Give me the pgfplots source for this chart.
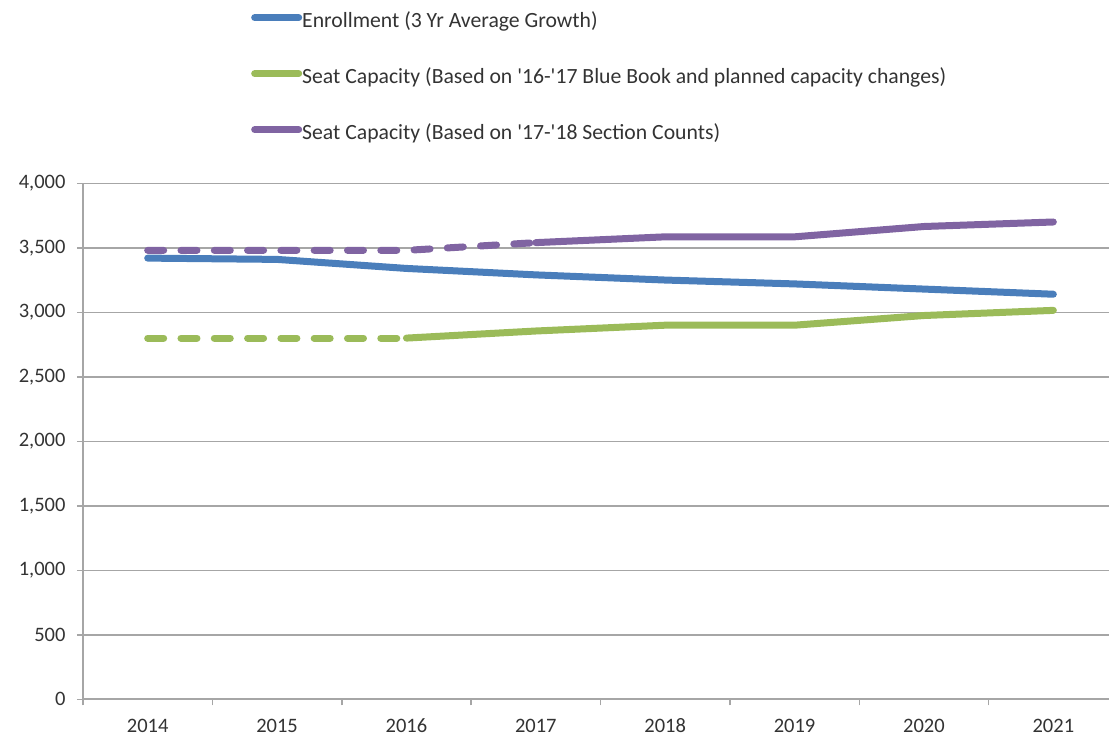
\documentclass[border=0pt]{standalone}
\usepackage{fontspec}
\setmainfont{Carlito}
\usepackage{pgfplots}
\pgfplotsset{compat=1.18}
\definecolor{eblue}{HTML}{4A7EBB}
\definecolor{egreen}{HTML}{9BBB59}
\definecolor{epurple}{HTML}{8064A2}
\definecolor{gridgray}{HTML}{A6A6A6}
\definecolor{txt}{HTML}{333333}
\begin{document}
\begin{tikzpicture}
\useasboundingbox (0,0) rectangle (1109pt,738pt);
\begin{axis}[
  at={(83pt,38.7pt)}, anchor=south west,
  scale only axis, width=1026pt, height=516pt,
  xmin=-0.5, xmax=7.43, ymin=0, ymax=4000,
  axis x line=bottom, axis y line=left,
  axis line style={gridgray, line width=1.8pt, -},
  xtick={-0.5,0.5,...,6.5}, xticklabels={},
  extra x ticks={0,1,2,3,4,5,6,7},
  extra x tick labels={2014,2015,2016,2017,2018,2019,2020,2021},
  extra x tick style={major tick length=0pt, xticklabel style={yshift=-16pt}},
  ytick={0,500,...,4000},
  ymajorgrids, grid style={gridgray, line width=1.5pt},
  tick style={gridgray, line width=1.5pt},
  tick align=outside, major tick length=6pt,
  yticklabel style={/pgf/number format/1000 sep={,}, xshift=-8pt},
  /pgf/number format/assume math mode=true,
  tick label style={font=\fontsize{20.5}{24}\selectfont, text=txt},
  legend cell align=left,
  legend style={at={(0.1608,1.333)}, anchor=north west, draw=none, fill=none,
    font=\fontsize{21.7}{25}\selectfont, text=txt, row sep=38pt,
    nodes={inner sep=0pt, text height=14pt, text depth=4pt}},
  legend image code/.code={\draw[#1, line width=7pt, line cap=round, dash pattern=] (3.5pt,5pt) -- (47.5pt,5pt);},
]
\addplot[eblue, line width=7pt, line cap=round, line join=round] coordinates {(0,3420)(1,3410)(2,3340)(3,3290)(4,3250)(5,3220)(6,3180)(7,3140)};
\addlegendentry{Enrollment (3 Yr Average Growth)}
\addplot[egreen, line width=7pt, line cap=round, line join=round] coordinates {(2,2800)(3,2855)(4,2900)(5,2900)(6,2975)(7,3015)};
\addlegendentry{Seat Capacity (Based on \textquotesingle16-\textquotesingle17 Blue Book and planned capacity changes)}
\addplot[epurple, line width=7pt, line cap=round, line join=round] coordinates {(3,3540)(4,3585)(5,3585)(6,3665)(7,3700)};
\addlegendentry{Seat Capacity (Based on \textquotesingle17-\textquotesingle18 Section Counts)}
\addplot[egreen, line width=7pt, line cap=round, dash pattern=on 16pt off 17.3pt, forget plot] coordinates {(0,2800)(1,2800)(2,2800)};
\addplot[epurple, line width=7pt, line cap=round, dash pattern=on 16pt off 17.3pt, forget plot] coordinates {(0,3480)(1,3480)(2,3480)(3,3540)};
\end{axis}
\end{tikzpicture}
\end{document}
